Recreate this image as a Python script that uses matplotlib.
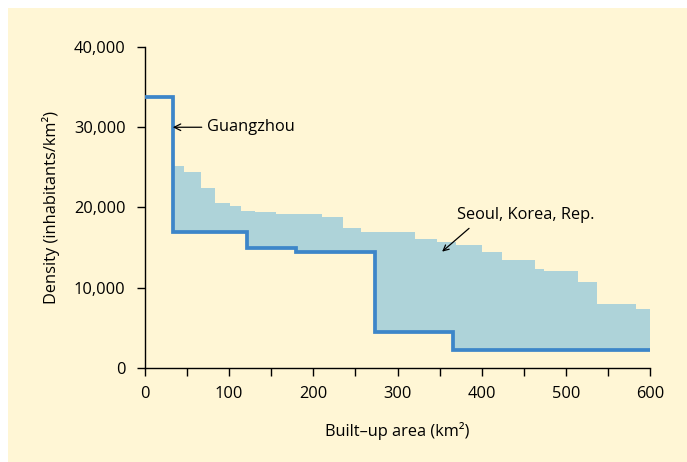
import numpy as np
import matplotlib
matplotlib.use("Agg")
import matplotlib.pyplot as plt
from matplotlib.patches import Rectangle

plt.rcParams['font.family'] = ['Open Sans', 'DejaVu Sans']

# Guangzhou step profile (edges in km2, densities)
guangzhou_edges = [0, 33, 121, 179, 273, 366, 600]
guangzhou_density = [33800, 17000, 15000, 14500, 4500, 2300]

# Seoul step profile
seoul_edges = [33, 46, 67, 83, 101, 114, 131, 156, 210, 235, 257, 321, 347, 369,
               400, 424, 463, 474, 514, 537, 583, 600]
seoul_density = [25200, 24400, 22400, 20600, 20200, 19600, 19400, 19200, 18800,
                 17500, 16950, 16100, 15700, 15300, 14400, 13500, 12300, 12100,
                 10700, 8000, 7300]

x_ticks = [0, 100, 200, 300, 400, 500, 600]
y_ticks = [0, 10000, 20000, 30000, 40000]
y_tick_labels = ["0", "10,000", "20,000", "30,000", "40,000"]

bg = '#FFF6D5'
fill_c = '#AED3D9'
line_c = '#3D86C9'
FS = 11.8

fig = plt.figure(figsize=(6.87, 4.62), dpi=100)
fig.patch.set_facecolor('white')
fig.patches.append(Rectangle((8/687, 0), 1 - 8/687, 1 - 8/462, transform=fig.transFigure,
                             facecolor=bg, edgecolor='none', zorder=-10))

ax = fig.add_axes([145/687, 1 - 368/462, 505/687, 321/462])
ax.set_facecolor('none')

# fill between the two step functions
def step_eval(edges, vals, x):
    idx = np.searchsorted(edges, x, side='right') - 1
    idx = np.clip(idx, 0, len(vals) - 1)
    return np.array(vals)[idx]

xs = np.array(sorted(set(seoul_edges) | set(e for e in guangzhou_edges if e >= seoul_edges[0])))
s_vals = step_eval(seoul_edges, seoul_density, xs)
g_vals = step_eval(guangzhou_edges, guangzhou_density, xs)
ax.fill_between(xs, g_vals, s_vals, step='post', color=fill_c, linewidth=0, zorder=1)

gx = np.array(guangzhou_edges)
gy = np.array(guangzhou_density + [guangzhou_density[-1]])
ax.step(gx, gy, where='post', color=line_c, linewidth=2.7, zorder=3, solid_joinstyle='miter')

ax.set_xlim(0, 600)
ax.set_ylim(0, 40000)
ax.set_xticks(x_ticks)
ax.set_xticks(np.arange(50, 600, 100), minor=True)
ax.set_yticks(y_ticks)
ax.set_yticklabels(y_tick_labels)
for s in ['top', 'right']:
    ax.spines[s].set_visible(False)
for s in ['left', 'bottom']:
    ax.spines[s].set_linewidth(1.0)
    ax.spines[s].set_color('black')
ax.tick_params(axis='both', which='both', direction='out', length=6, width=1.0,
               labelsize=FS, colors='black')
ax.tick_params(axis='y', pad=8)
ax.tick_params(axis='x', pad=7)

ax.set_xlabel('Built–up area (km²)', fontsize=FS, labelpad=14)
ax.set_ylabel('Density (inhabitants/km²)', fontsize=FS, labelpad=10)

ax.annotate('Guangzhou', xy=(33, 30000), xytext=(74, 30000),
            fontsize=FS, va='center', ha='left',
            arrowprops=dict(arrowstyle='->', color='black', lw=0.9, shrinkA=2, shrinkB=0))
ax.annotate('Seoul, Korea, Rep.', xy=(353, 14500), xytext=(452, 19100),
            fontsize=FS, va='center', ha='center')
ax.annotate('', xy=(353, 14500), xytext=(385, 17400),
            arrowprops=dict(arrowstyle='->', color='black', lw=0.9, shrinkA=0, shrinkB=0))

fig.savefig('out.png', dpi=100, facecolor=fig.get_facecolor())
